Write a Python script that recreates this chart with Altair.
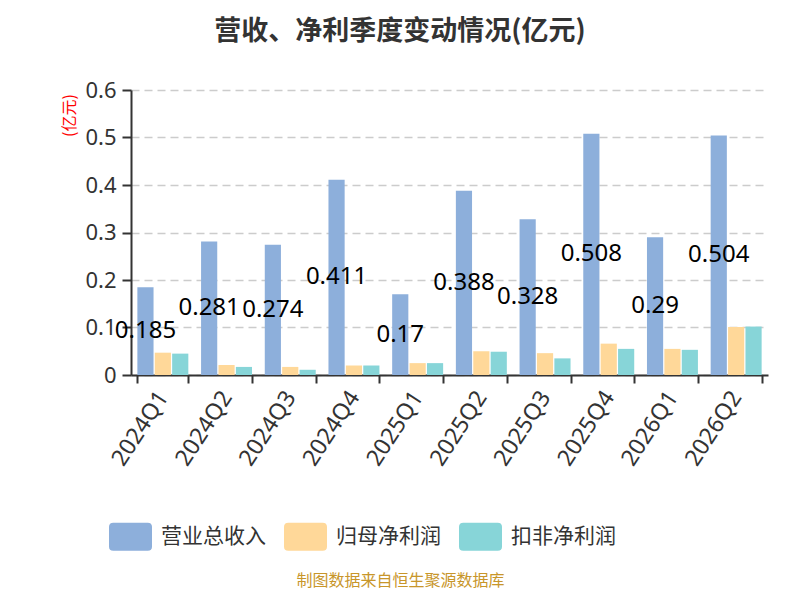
import altair as alt
import pandas as pd

quarters = ["2024Q1", "2024Q2", "2024Q3", "2024Q4", "2025Q1",
            "2025Q2", "2025Q3", "2025Q4", "2026Q1", "2026Q2"]
series_names = ["营业总收入", "归母净利润", "扣非净利润"]
revenue = [0.185, 0.281, 0.274, 0.411, 0.17, 0.388, 0.328, 0.508, 0.29, 0.504]
net_profit = [0.047, 0.021, 0.017, 0.020, 0.025, 0.050, 0.046, 0.066, 0.055, 0.101]
deducted_profit = [0.045, 0.017, 0.011, 0.020, 0.025, 0.049, 0.035, 0.055, 0.053, 0.102]
colors = ["#8DAFDB", "#FFD899", "#87D5D8"]

rows = []
for s, vals in zip(series_names, [revenue, net_profit, deducted_profit]):
    for q, v in zip(quarters, vals):
        rows.append({"quarter": q, "series": s, "value": v, "label": f"{v:g}"})
df = pd.DataFrame(rows)

CJK = "Noto Sans CJK SC"
LAT = "Noto Sans, Noto Sans CJK SC"

x_enc = alt.X(
    "quarter:N",
    sort=quarters,
    scale=alt.Scale(paddingInner=0.2, paddingOuter=0.1),
    axis=alt.Axis(
        title="制图数据来自恒生聚源数据库",
        titleFont=CJK, titleFontSize=16, titleFontWeight="normal",
        titleColor="#C8962A", titleX=269, titleY=205,
        titleAlign="center", titleBaseline="middle",
        labelAngle=-57, labelFontSize=23, labelFont=LAT, labelColor="#333333",
        labelPadding=10,
        tickBand="extent", tickSize=8, tickWidth=2, tickColor="#333333",
        domainColor="#333333", domainWidth=2, grid=False,
    ),
)
xoff_enc = alt.XOffset("series:N", sort=series_names,
                       scale=alt.Scale(domain=series_names, paddingInner=0.07))
y_axis = alt.Axis(
    title="(亿元)", titleFont=CJK, titleFontSize=16, titleFontWeight="normal",
    titleColor="#FF0000", titleX=-62, titleY=25, titleAngle=-90,
    titleAlign="center", titleBaseline="middle",
    values=[0, 0.1, 0.2, 0.3, 0.4, 0.5, 0.6], format="~g",
    labelFontSize=22, labelFont=LAT, labelColor="#333333", labelPadding=6,
    tickSize=9, tickWidth=2, tickColor="#333333",
    domainColor="#333333", domainWidth=2,
    grid=True, gridColor="#CCCCCC", gridDash=[8, 5], gridWidth=1.5,
)
y_scale = alt.Scale(domain=[0, 0.6], nice=False)

legend_path = ("M-0.8,-0.65 L0.8,-0.65 Q1,-0.65 1,-0.45 L1,0.45 Q1,0.65 0.8,0.65 "
               "L-0.8,0.65 Q-1,0.65 -1,0.45 L-1,-0.45 Q-1,-0.65 -0.8,-0.65 Z")

bars = alt.Chart(df).mark_bar().encode(
    x=x_enc,
    xOffset=xoff_enc,
    y=alt.Y("value:Q", scale=y_scale, axis=y_axis),
    color=alt.Color(
        "series:N",
        sort=series_names,
        scale=alt.Scale(domain=series_names, range=colors),
        legend=alt.Legend(
            title=None, orient="none", legendX=-22, legendY=425,
            direction="horizontal", symbolType=legend_path, symbolSize=1849,
            symbolStrokeWidth=0, labelFont=CJK, labelFontSize=21,
            labelColor="#333333", labelOffset=9, columnPadding=18,
        ),
    ),
)

labels = alt.Chart(df).transform_filter(
    alt.datum.series == "营业总收入"
).transform_calculate(
    mid="datum.value / 2"
).mark_text(
    font=LAT, fontSize=24, color="#000000", align="center", baseline="middle"
).encode(
    x=x_enc,
    xOffset=xoff_enc,
    y=alt.Y("mid:Q", scale=y_scale, axis=y_axis),
    text="label:N",
)

chart = alt.layer(bars, labels).properties(
    width=637,
    height=285,
    background="#FFFFFF",
    title=alt.TitleParams(
        text="营收、净利季度变动情况(亿元)",
        font=CJK, fontSize=27, fontWeight="bold", color="#333333",
        anchor="middle", dx=-49.5, offset=33,
    ),
    autosize=alt.AutoSizeParams(type="none"),
    padding={"left": 123, "top": 82, "right": 24, "bottom": 217},
).configure_view(stroke="transparent", strokeWidth=0)

chart.save("out.html", embed_options={"renderer": "svg", "actions": False})
